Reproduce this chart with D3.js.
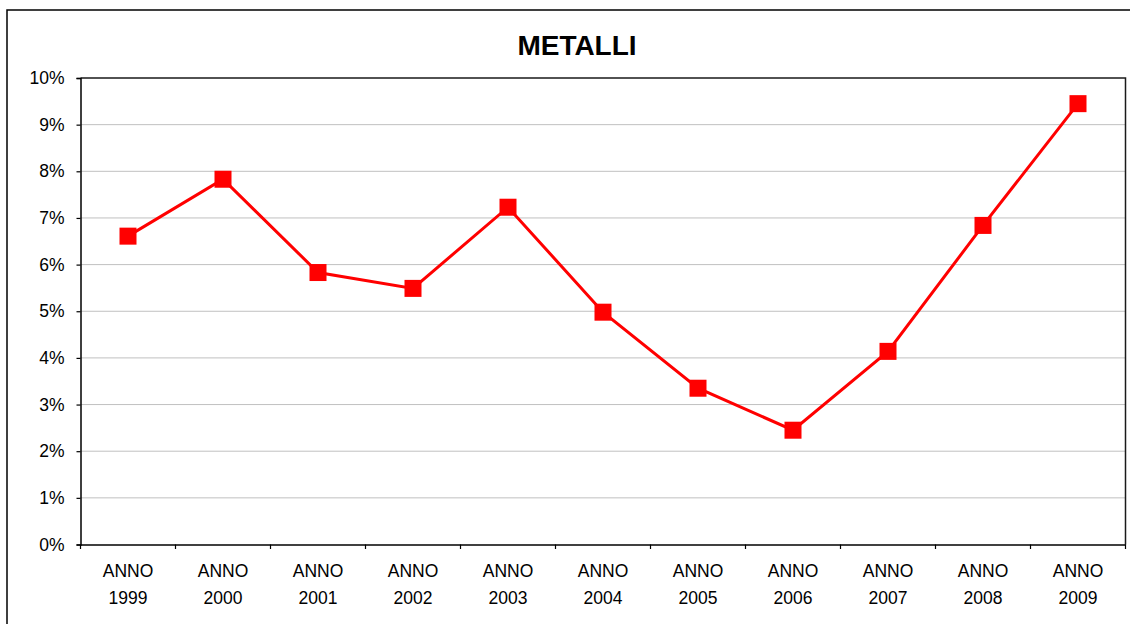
<!DOCTYPE html>
<html>
<head>
<meta charset="utf-8">
<script src="https://cdn.jsdelivr.net/npm/d3@7"></script>
<style>
  html, body { margin: 0; padding: 0; background: #fff; }
  svg { display: block; font-family: "Liberation Sans", Arial, sans-serif; }
</style>
</head>
<body>
<svg id="chart" width="1130" height="624"></svg>
<script>
const title = "METALLI";
const years = ["1999", "2000", "2001", "2002", "2003", "2004", "2005", "2006", "2007", "2008", "2009"];
const categoryPrefix = "ANNO";
const values = [6.61, 7.83, 5.83, 5.49, 7.23, 4.98, 3.35, 2.45, 4.14, 6.84, 9.45];
const yTicks = [0, 1, 2, 3, 4, 5, 6, 7, 8, 9, 10];

const svg = d3.select("#chart");
const plot = { left: 80.5, top: 78, right: 1125.5, bottom: 544.5 };

// outer chart border
svg.append("rect")
  .attr("x", 7).attr("y", 10)
  .attr("width", 1150).attr("height", 640)
  .attr("fill", "#fff").attr("stroke", "#000").attr("stroke-width", 1.5);

const x = d3.scaleBand().domain(years).range([plot.left, plot.right]).padding(0);
const y = d3.scaleLinear().domain([0, 10]).range([plot.bottom, plot.top]);

// gridlines
svg.append("g")
  .selectAll("line")
  .data(yTicks.filter(d => d > 0 && d < 10))
  .join("line")
  .attr("x1", plot.left).attr("x2", plot.right)
  .attr("y1", d => y(d)).attr("y2", d => y(d))
  .attr("stroke", "#c0c0c0").attr("stroke-width", 1);

// plot area border (top & right)
svg.append("path")
  .attr("d", `M${plot.left},${plot.top}H${plot.right}V${plot.bottom}`)
  .attr("fill", "none").attr("stroke", "#1a1a1a").attr("stroke-width", 1.5);

// y axis
const yAxis = d3.axisLeft(y)
  .tickValues(yTicks)
  .tickFormat(d => d + "%")
  .tickSize(4)
  .tickPadding(12);
const gy = svg.append("g").attr("transform", `translate(${plot.left},0)`).call(yAxis);
gy.select(".domain").attr("stroke", "#000").attr("stroke-width", 1.5);
gy.selectAll(".tick line").attr("stroke", "#000").attr("stroke-width", 1.2);
gy.selectAll(".tick text")
  .attr("font-size", "17.5px")
  .attr("fill", "#000")
  .attr("font-family", "'Liberation Sans', Arial, sans-serif");

// x axis: labels at centers, ticks at category boundaries
const xAxis = d3.axisBottom(x).tickSize(0).tickFormat("");
const gx = svg.append("g").attr("transform", `translate(0,${plot.bottom})`).call(xAxis);
gx.select(".domain").attr("stroke", "#000").attr("stroke-width", 1.5);
gx.selectAll(".tick").remove();

const boundaries = years.map(d => x(d)).concat([x.range()[1]]);
svg.append("g")
  .selectAll("line")
  .data(boundaries)
  .join("line")
  .attr("x1", d => d).attr("x2", d => d)
  .attr("y1", plot.bottom).attr("y2", plot.bottom + 4.5)
  .attr("stroke", "#000").attr("stroke-width", 1.2);

const labels = svg.append("g")
  .selectAll("text")
  .data(years)
  .join("text")
  .attr("x", d => x(d) + x.bandwidth() / 2)
  .attr("text-anchor", "middle")
  .attr("font-size", "17.5px")
  .attr("fill", "#000");
labels.append("tspan")
  .attr("x", d => x(d) + x.bandwidth() / 2)
  .attr("y", 577)
  .text(categoryPrefix);
labels.append("tspan")
  .attr("x", d => x(d) + x.bandwidth() / 2)
  .attr("y", 604)
  .text(d => d);

// line
const line = d3.line()
  .x((d, i) => x(years[i]) + x.bandwidth() / 2)
  .y(d => y(d));
svg.append("path")
  .datum(values)
  .attr("d", line)
  .attr("fill", "none")
  .attr("stroke", "#ff0000")
  .attr("stroke-width", 3);

// square markers
const ms = 17;
svg.append("g")
  .selectAll("rect")
  .data(values)
  .join("rect")
  .attr("x", (d, i) => x(years[i]) + x.bandwidth() / 2 - ms / 2)
  .attr("y", d => y(d) - ms / 2)
  .attr("width", ms).attr("height", ms)
  .attr("fill", "#ff0000");

// title
svg.append("text")
  .attr("x", 577)
  .attr("y", 55)
  .attr("text-anchor", "middle")
  .attr("font-size", "28px")
  .attr("font-weight", "bold")
  .attr("fill", "#000")
  .text(title);
</script>
</body>
</html>
